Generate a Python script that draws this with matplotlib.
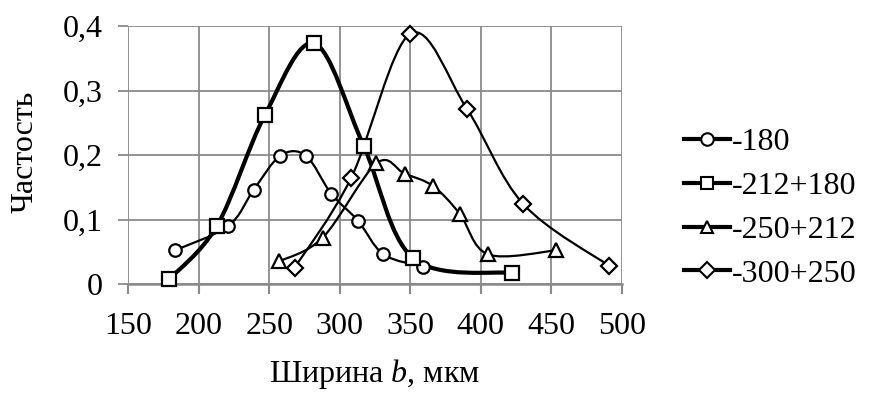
import numpy as np
import matplotlib.pyplot as plt
from matplotlib.path import Path
from matplotlib.patches import PathPatch
from matplotlib.lines import Line2D

plt.rcParams['font.family'] = ['Liberation Serif', 'DejaVu Serif']
plt.rcParams['mathtext.fontset'] = 'custom'
plt.rcParams['mathtext.it'] = 'Liberation Serif:italic'
plt.rcParams['mathtext.rm'] = 'Liberation Serif'

# data
x_180 = [183, 221, 239, 258, 276, 294, 313, 331, 359]
y_180 = [0.052, 0.090, 0.146, 0.199, 0.199, 0.140, 0.098, 0.046, 0.027]

x_212 = [179, 213, 247, 282, 317, 352, 422]
y_212 = [0.007, 0.090, 0.262, 0.373, 0.214, 0.040, 0.017]

x_250 = [257, 288, 326, 346, 366, 385, 405, 453]
y_250 = [0.035, 0.072, 0.187, 0.171, 0.152, 0.109, 0.046, 0.052]

x_300 = [268, 308, 350, 390, 430, 491]
y_300 = [0.025, 0.164, 0.388, 0.272, 0.124, 0.028]

labels = ['-180', '-212+180', '-250+212', '-300+250']
x_ticks = [150, 200, 250, 300, 350, 400, 450, 500]
y_ticks = [0, 0.1, 0.2, 0.3, 0.4]
y_ticklabels = ['0', '0,1', '0,2', '0,3', '0,4']


def smooth_path(xs, ys):
    # excel-like smoothed line: bezier segments with catmull-rom control points
    p = np.column_stack([xs, ys]).astype(float)
    n = len(p)
    verts = [p[0]]
    codes = [Path.MOVETO]
    for i in range(n - 1):
        p0 = p[i - 1] if i > 0 else p[i]
        p3 = p[i + 2] if i + 2 < n else p[i + 1]
        c1 = p[i] + (p[i + 1] - p0) / 6
        c2 = p[i + 1] - (p3 - p[i]) / 6
        verts += [c1, c2, p[i + 1]]
        codes += [Path.CURVE4] * 3
    return Path(verts, codes)


fig = plt.figure(figsize=(8.74, 4.01), dpi=100)
ax = fig.add_axes([128 / 874, 1 - 284 / 401, (622 - 128) / 874, (284 - 26) / 401])

series = [
    (x_180, y_180, 'o', 1.6, 9),
    (x_212, y_212, 's', 3.0, 10),
    (x_250, y_250, '^', 1.6, 10),
    (x_300, y_300, 'D', 1.6, 8),
]

handles = []
for (xs, ys, m, lw, ms), lab in zip(series, labels):
    ax.add_patch(PathPatch(smooth_path(xs, ys), facecolor='none',
                           edgecolor='black', lw=lw, zorder=3))
    ax.plot(xs, ys, ls='none', marker=m, ms=ms,
            mfc='white', mec='black', mew=1.6, zorder=4, clip_on=False)
    handles.append(Line2D([], [], color='black', lw=3, marker=m,
                          ms=9 if m != 'D' else 8, mfc='white', mec='black',
                          mew=1.5, label=lab))

ax.set_xlim(150, 500)
ax.set_ylim(0, 0.4)
ax.set_xticks(x_ticks)
ax.set_yticks(y_ticks)
ax.set_yticklabels(y_ticklabels)
ax.grid(True, color='#8a8a8a', lw=1.3)
ax.set_axisbelow(True)
for s in ['top', 'right', 'left']:
    ax.spines[s].set_visible(False)
ax.spines['bottom'].set_color('#8a8a8a')
ax.spines['bottom'].set_linewidth(1.8)
ax.tick_params(axis='x', color='#8a8a8a', length=7, width=1.5,
               labelsize=23, pad=13)
ax.tick_params(axis='y', color='#8a8a8a', length=7, width=1.3,
               labelsize=23, pad=11)

fig.text(25 / 874, 1 - 152 / 401, 'Частость', rotation=90,
         ha='center', va='center', fontsize=23)
fig.text(375 / 874, 1 - 374 / 401, 'Ширина $b$, мкм',
         ha='center', va='center', fontsize=23)

fig.legend(handles=handles, loc='upper left',
           bbox_to_anchor=(684 / 874, 1 - 128 / 401), frameon=False,
           fontsize=23, handlelength=1.45, handletextpad=0.05,
           labelspacing=0.45, borderaxespad=0, borderpad=0)

fig.savefig('out.png', dpi=100)
